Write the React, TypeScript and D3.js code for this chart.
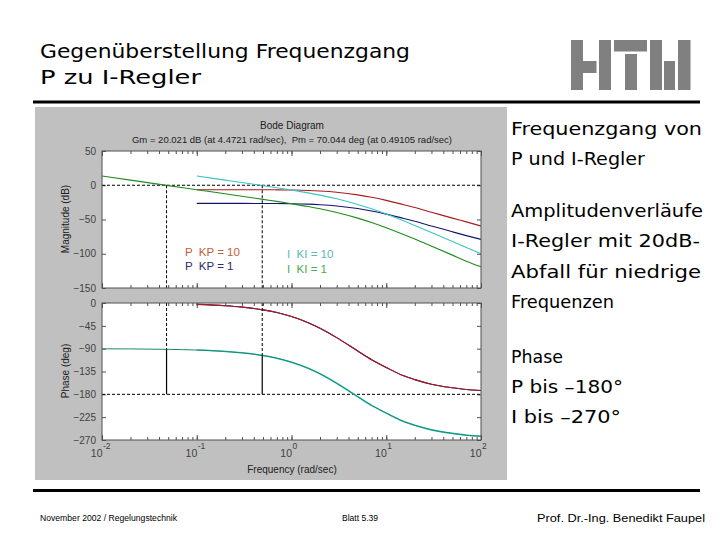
import { useEffect, useRef } from 'react';
import * as d3 from 'd3';

// frequencies (rad/sec)
const freqP = [0.1, 0.2, 0.3, 0.5, 0.7, 1, 1.5, 2, 3, 5, 7, 10, 15, 20, 30, 50, 70, 100];
const freqI1 = [0.01, 0.02, 0.05, 0.1, 0.2, 0.3, 0.5, 0.7, 1, 1.5, 2, 3, 5, 7, 10, 15, 20, 30, 50, 70, 100];
const freqI10 = [0.1, 0.2, 0.3, 0.5, 0.7, 1, 1.5, 2, 3, 5, 7, 10, 15, 20, 30, 50, 70, 100];

// magnitude (dB)
const magKP10 = [-6.5, -6.5, -6.5, -6.6, -6.7, -7.0, -7.6, -8.4, -10.2, -14.0, -17.5, -22.1, -28.1, -32.6, -39.4, -48.0, -53.5, -59.5];
const magKP1 = [-26.5, -26.5, -26.5, -26.6, -26.7, -27.0, -27.6, -28.4, -30.2, -34.0, -37.5, -42.1, -48.1, -52.6, -59.4, -68.0, -73.5, -79.0];
const magKI1 = [13.5, 7.5, -0.5, -6.5, -12.5, -16.0, -20.6, -23.6, -27.0, -31.1, -34.4, -39.7, -48.0, -54.4, -62.1, -71.6, -78.6, -88.9, -102.0, -110.8, -119.0];
const magKI10 = [13.5, 7.5, 4.0, -0.6, -3.6, -7.0, -11.1, -14.4, -19.7, -28.0, -34.4, -42.1, -51.6, -58.7, -68.9, -82.0, -90.8, -100.0];

// phase (deg)
const phaseP = [-2.7, -5.5, -8.2, -13.5, -18.8, -26.6, -38.7, -49.6, -68.2, -94.6, -111.8, -127.0, -143.0, -151.0, -160.0, -167.0, -170.5, -172.5];
const phaseI1 = [-90.3, -90.5, -91.4, -92.7, -95.5, -98.2, -103.5, -108.8, -116.6, -128.7, -139.6, -158.2, -184.6, -201.8, -217.0, -233.0, -241.0, -250.0, -257.0, -260.5, -262.5];
const phaseI10 = [-92.7, -95.5, -98.2, -103.5, -108.8, -116.6, -128.7, -139.6, -158.2, -184.6, -201.8, -217.0, -233.0, -241.0, -250.0, -257.0, -260.5, -262.5];

// margin markers (crossover frequency, phase there)
const crossFreq = [0.048, 0.491];
const crossPhase = [-91.4, -103.3];

const magTicks = [50, 0, -50, -100, -150];
const phaseTicks = [0, -45, -90, -135, -180, -225, -270];
const decadeExp = [-2, -1, 0, 1, 2];

const sideText = [
  { t: 'Frequenzgang von', y: 135, w: 191 },
  { t: 'P und I-Regler', y: 165, w: 134 },
  { t: 'Amplitudenverläufe', y: 217, w: 192 },
  { t: 'I-Regler mit 20dB-', y: 247, w: 189 },
  { t: 'Abfall für niedrige', y: 278, w: 190 },
  { t: 'Frequenzen', y: 308, w: 103 },
  { t: 'Phase', y: 363, w: 52 },
  { t: 'P bis –180°', y: 393, w: 112 },
  { t: 'I bis –270°', y: 423, w: 110 },
];

const C = {
  red: '#a81c1c',
  blue: '#14146e',
  green: '#1e8c1e',
  cyan: '#3cc4c4',
};

const labelFont = '"Liberation Sans", Arial, sans-serif';
const slideFont = '"DejaVu Sans", sans-serif';

export default function App() {
  const gRef = useRef<SVGGElement>(null);

  useEffect(() => {
    if (!gRef.current) return;
    const g = d3.select(gRef.current);
    g.selectAll('*').remove();

    const left = 102;
    const right = 481;
    const mag = { top: 151, bottom: 288 };
    const ph = { top: 303, bottom: 440 };

    const x = d3.scaleLog().domain([0.01, 100]).range([left, right]);
    const yMag = d3.scaleLinear().domain([-150, 50]).range([mag.bottom, mag.top]);
    const yPh = d3.scaleLinear().domain([-270, 0]).range([ph.bottom, ph.top]);

    // plot areas
    [mag, ph].forEach((p) => {
      g.append('rect')
        .attr('x', left)
        .attr('y', p.top)
        .attr('width', right - left)
        .attr('height', p.bottom - p.top)
        .attr('fill', '#ffffff');
    });

    const styleAxis = (sel: d3.Selection<SVGGElement, unknown, null, undefined>) => {
      sel.select('.domain').remove();
      sel.selectAll('line').attr('stroke', '#505050');
      sel
        .selectAll('text')
        .attr('fill', '#404040')
        .style('font-size', '10px')
        .style('font-family', labelFont);
    };

    const allTicks = x.ticks();
    const decades = decadeExp.map((e) => Math.pow(10, e));

    [mag, ph].forEach((p) => {
      g.append('g')
        .attr('transform', `translate(0,${p.bottom})`)
        .call(d3.axisBottom(x).tickValues(allTicks).tickSize(-3).tickSizeOuter(0).tickFormat(() => ''))
        .call(styleAxis);
      g.append('g')
        .attr('transform', `translate(0,${p.top})`)
        .call(d3.axisTop(x).tickValues(allTicks).tickSize(-3).tickSizeOuter(0).tickFormat(() => ''))
        .call(styleAxis);
      g.append('g')
        .attr('transform', `translate(0,${p.bottom})`)
        .call(d3.axisBottom(x).tickValues(decades).tickSize(-5).tickSizeOuter(0).tickFormat(() => ''))
        .call(styleAxis);
      g.append('g')
        .attr('transform', `translate(0,${p.top})`)
        .call(d3.axisTop(x).tickValues(decades).tickSize(-5).tickSizeOuter(0).tickFormat(() => ''))
        .call(styleAxis);
    });

    g.append('g')
      .attr('transform', `translate(${left},0)`)
      .call(d3.axisLeft(yMag).tickValues(magTicks).tickSize(-4).tickSizeOuter(0).tickPadding(6))
      .call(styleAxis);
    g.append('g')
      .attr('transform', `translate(${right},0)`)
      .call(d3.axisRight(yMag).tickValues(magTicks).tickSize(-4).tickSizeOuter(0).tickFormat(() => ''))
      .call(styleAxis);
    g.append('g')
      .attr('transform', `translate(${left},0)`)
      .call(d3.axisLeft(yPh).tickValues(phaseTicks).tickSize(-4).tickSizeOuter(0).tickPadding(6))
      .call(styleAxis);
    g.append('g')
      .attr('transform', `translate(${right},0)`)
      .call(d3.axisRight(yPh).tickValues(phaseTicks).tickSize(-4).tickSizeOuter(0).tickFormat(() => ''))
      .call(styleAxis);

    // decade labels 10^n
    const dl = g.append('g').attr('fill', '#404040').style('font-family', labelFont);
    decadeExp.forEach((e) => {
      const px = x(Math.pow(10, e));
      dl.append('text')
        .attr('x', px + 0.5)
        .attr('y', 457)
        .attr('text-anchor', 'end')
        .style('font-size', '10.5px')
        .text('10');
      dl.append('text')
        .attr('x', px + 1)
        .attr('y', 449)
        .style('font-size', '8.5px')
        .text(String(e));
    });

    // reference lines
    const dashed = (x1: number, y1: number, x2: number, y2: number) =>
      g.append('line')
        .attr('x1', x1).attr('y1', y1).attr('x2', x2).attr('y2', y2)
        .attr('stroke', '#000').attr('stroke-width', 1).attr('stroke-dasharray', '3,2');

    dashed(left, yMag(0), right, yMag(0));
    dashed(left, yPh(-180), right, yPh(-180));

    const line = d3
      .line<[number, number]>()
      .x((d) => x(d[0]))
      .y((d) => d[1])
      .curve(d3.curveMonotoneX);

    const draw = (fx: number[], vals: number[], y: d3.ScaleLinear<number, number>, color: string, w = 1.1) => {
      g.append('path')
        .datum(fx.map((f, i) => [f, y(vals[i])] as [number, number]))
        .attr('fill', 'none')
        .attr('stroke', color)
        .attr('stroke-width', w)
        .attr('d', line);
    };

    // magnitude
    draw(freqP, magKP10, yMag, C.red);
    draw(freqP, magKP1, yMag, C.blue);
    draw(freqI10, magKI10, yMag, C.cyan);
    draw(freqI1, magKI1, yMag, C.green);

    // phase (curves of equal phase lie on top of each other)
    draw(freqP, phaseP, yPh, C.blue);
    draw(freqP, phaseP, yPh, C.red);
    draw(freqI10, phaseI10, yPh, C.cyan, 1.6);
    draw(freqI1, phaseI1, yPh, '#1a8a6a', 1);

    // margin markers
    crossFreq.forEach((f, i) => {
      const px = x(f);
      dashed(px, yMag(0), px, mag.bottom);
      dashed(px, ph.top, px, yPh(crossPhase[i]));
      g.append('line')
        .attr('x1', px).attr('y1', yPh(crossPhase[i]))
        .attr('x2', px).attr('y2', yPh(-180))
        .attr('stroke', '#000').attr('stroke-width', 1.2);
    });

    // plot frames
    [mag, ph].forEach((p) => {
      g.append('rect')
        .attr('x', left)
        .attr('y', p.top)
        .attr('width', right - left)
        .attr('height', p.bottom - p.top)
        .attr('fill', 'none')
        .attr('stroke', '#505050')
        .attr('stroke-width', 1);
    });
  }, []);

  const annot = [
    { t: 'P  KP = 10', x: 185, y: 256, c: '#c0603a' },
    { t: 'P  KP = 1', x: 185, y: 270, c: '#2a2a70' },
    { t: 'I  KI = 10', x: 287, y: 258, c: '#5ab8b8' },
    { t: 'I  KI = 1', x: 287, y: 272.5, c: '#4caa4c' },
  ];

  return (
    <svg
      width={720}
      height={540}
      style={{ position: 'absolute', left: 0, top: 0, background: '#fff' }}
    >
      <rect x={0} y={0} width={720} height={540} fill="#fff" />
      {/* slide title */}
      <g fontFamily={slideFont} fill="#000">
        <text x={40} y={58} fontSize={19} textLength={370} lengthAdjust="spacingAndGlyphs">
          Gegenüberstellung Frequenzgang
        </text>
        <text x={40} y={84} fontSize={19} textLength={161} lengthAdjust="spacingAndGlyphs">
          P zu I-Regler
        </text>
      </g>
      {/* logo */}
      <g fill="#808080">
        <rect x={571} y={40} width={12} height={50} />
        <rect x={583} y={61} width={13.5} height={12} />
        <rect x={599} y={40} width={12} height={50} />
        <rect x={614} y={40} width={33} height={11.5} />
        <rect x={625} y={54} width={12} height={36} />
        <rect x={650} y={40} width={12} height={50} />
        <rect x={664} y={61} width={11} height={29} />
        <rect x={678} y={40} width={12.5} height={50} />
      </g>
      <rect x={33} y={100.5} width={667} height={3} fill="#000" />
      <rect x={33} y={489} width={667} height={3} fill="#000" />
      {/* matlab figure panel */}
      <rect x={35} y={107} width={472} height={373} fill="#c0c0c0" />
      <g fontFamily={labelFont} fill="#202020" textAnchor="middle">
        <text x={292} y={128.5} fontSize={10}>Bode Diagram</text>
        <text x={292} y={142.5} fontSize={9.5} style={{ whiteSpace: 'pre' }}>
          Gm = 20.021 dB (at 4.4721 rad/sec),  Pm = 70.044 deg (at 0.49105 rad/sec)
        </text>
        <text x={292} y={473} fontSize={10}>Frequency (rad/sec)</text>
        <text transform="translate(69,219) rotate(-90)" fontSize={10}>Magnitude (dB)</text>
        <text transform="translate(69,371) rotate(-90)" fontSize={10}>Phase (deg)</text>
      </g>
      <g ref={gRef} />
      <g fontFamily={labelFont} fontSize={11.5}>
        {annot.map((a) => (
          <text key={a.t} x={a.x} y={a.y} fill={a.c} style={{ whiteSpace: 'pre' }}>
            {a.t}
          </text>
        ))}
      </g>
      {/* side notes */}
      <g fontFamily={slideFont} fill="#000" fontSize={18}>
        {sideText.map((s) => (
          <text key={s.t} x={511} y={s.y} textLength={s.w} lengthAdjust="spacingAndGlyphs">
            {s.t}
          </text>
        ))}
      </g>
      {/* footer */}
      <g fontFamily={labelFont} fill="#000">
        <text x={40} y={521} fontSize={8.5} textLength={137} lengthAdjust="spacingAndGlyphs">
          November 2002 / Regelungstechnik
        </text>
        <text x={342} y={521} fontSize={8.5} textLength={36} lengthAdjust="spacingAndGlyphs">
          Blatt 5.39
        </text>
        <text x={537} y={522} fontSize={11} textLength={168} lengthAdjust="spacingAndGlyphs">
          Prof. Dr.-Ing. Benedikt Faupel
        </text>
      </g>
    </svg>
  );
}
